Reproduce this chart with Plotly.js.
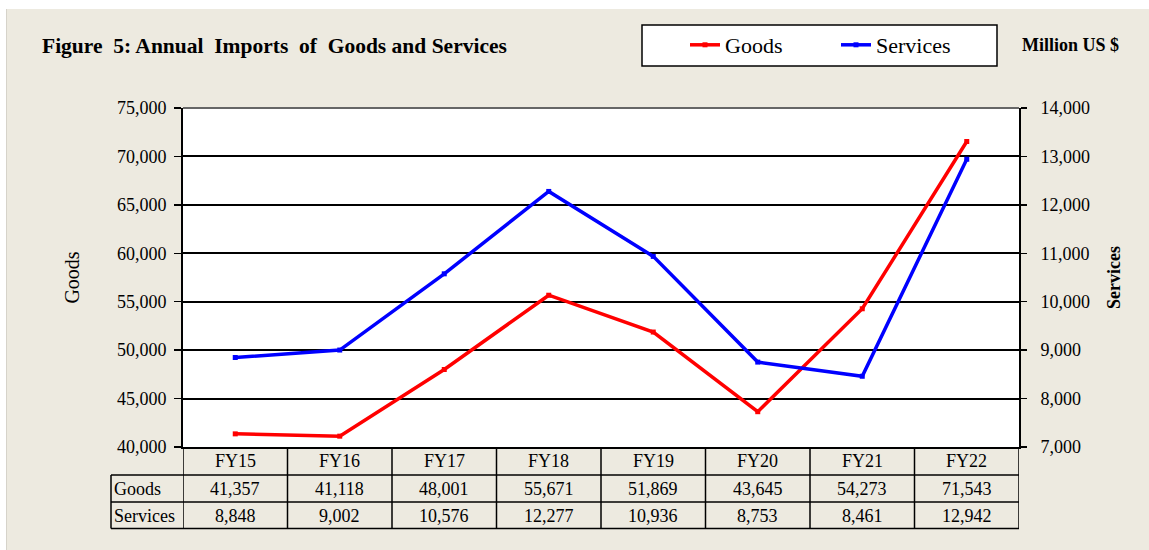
<!DOCTYPE html>
<html>
<head>
<meta charset="utf-8">
<script src="https://cdn.plot.ly/plotly-3.0.1.min.js"></script>
<style>html,body{margin:0;padding:0;background:#fff;} #chart{width:1149px;height:550px;}</style>
</head>
<body>
<div id="chart"></div>
<script>
const categories = ['FY15','FY16','FY17','FY18','FY19','FY20','FY21','FY22'];
const goods = [41357, 41118, 48001, 55671, 51869, 43645, 54273, 71543];
const services = [8848, 9002, 10576, 12277, 10936, 8753, 8461, 12942];
const seriesNames = ['Goods', 'Services'];
const titleText = 'Figure\u00A0 5: Annual\u00A0 Imports\u00A0 of\u00A0 Goods and Services';
const unitText = 'Million US $';

const W = 1149, H = 550;
const L = 183, R = 1019, T = 108, B = 447;
const px2x = X => (X - L) / (R - L);
const px2y = Y => (B - Y) / (B - T);
const FONT = '"Liberation Serif", "Times New Roman", serif';
const BEIGE = '#EDEAE0';

const fmt = v => v.toLocaleString('en-US');

const traces = [
  {x: categories, y: goods, name: seriesNames[0], type: 'scatter', mode: 'lines+markers',
   line: {color: '#FF0000', width: 3.5}, marker: {symbol: 'square', size: 5, color: '#FF0000'}, yaxis: 'y'},
  {x: categories, y: services, name: seriesNames[1], type: 'scatter', mode: 'lines+markers',
   line: {color: '#0000FF', width: 3.5}, marker: {symbol: 'square', size: 5, color: '#0000FF'}, yaxis: 'y2'}
];

const shapes = [];
const annotations = [];
shapes.push({type:'rect', xref:'paper', yref:'paper', x0:px2x(0), x1:px2x(6), y0:px2y(0), y1:px2y(H), fillcolor:'#fff', line:{width:0}, layer:'below'});
shapes.push({type:'rect', xref:'paper', yref:'paper', x0:px2x(0), x1:px2x(W), y0:px2y(0), y1:px2y(9), fillcolor:'#fff', line:{width:0}, layer:'below'});
shapes.push({type:'line', xref:'paper', yref:'paper', x0:px2x(6.5), x1:px2x(6.5), y0:px2y(9), y1:px2y(H), line:{color:'#D6D3CA', width:1}, layer:'below'});
shapes.push({type:'rect', xref:'paper', yref:'paper', x0:px2x(642), x1:px2x(997), y0:px2y(25), y1:px2y(66), fillcolor:'#fff', line:{color:'#000', width:1.5}, layer:'below'});
shapes.push({type:'line', xref:'paper', yref:'paper', x0:0, x1:1, y0:1, y1:1, line:{color:'#666', width:2}});

const rowLineY = [475, 502, 528.5];
rowLineY.forEach(Y => shapes.push({type:'line', xref:'paper', yref:'paper', x0:px2x(111), x1:1, y0:px2y(Y), y1:px2y(Y), line:{color:'#000', width:1.5}}));
shapes.push({type:'line', xref:'paper', yref:'paper', x0:px2x(111), x1:px2x(111), y0:px2y(475), y1:px2y(528.5), line:{color:'#000', width:1.5}});
for (let i = 0; i <= categories.length; i++) {
  shapes.push({type:'line', xref:'x', yref:'paper', x0:i-0.5, x1:i-0.5, y0:0, y1:px2y(528.5), line:{color:'#000', width:1.5}});
}
const headerY = px2y(461), goodsY = px2y(488.5), servY = px2y(515.5);
const cellFont = {family:FONT, size:18, color:'#000'};
categories.forEach((c, i) => {
  annotations.push({xref:'x', yref:'paper', x:c, y:headerY, xanchor:'center', yanchor:'middle', text:c, showarrow:false, font:cellFont});
  annotations.push({xref:'x', yref:'paper', x:c, y:goodsY, xanchor:'center', yanchor:'middle', text:fmt(goods[i]), showarrow:false, font:cellFont});
  annotations.push({xref:'x', yref:'paper', x:c, y:servY, xanchor:'center', yanchor:'middle', text:fmt(services[i]), showarrow:false, font:cellFont});
});
annotations.push({xref:'paper', yref:'paper', x:px2x(112), y:goodsY, xanchor:'left', yanchor:'middle', text:seriesNames[0], showarrow:false, font:cellFont});
annotations.push({xref:'paper', yref:'paper', x:px2x(112), y:servY, xanchor:'left', yanchor:'middle', text:seriesNames[1], showarrow:false, font:cellFont});
annotations.push({xref:'paper', yref:'paper', x:px2x(1020), y:px2y(45), xanchor:'left', yanchor:'middle', text:'<b>'+unitText+'</b>', showarrow:false, font:{family:FONT, size:18, color:'#000'}});

const layout = {
  width: W, height: H,
  margin: {l: L, r: W - R, t: T, b: H - B, pad: 0},
  paper_bgcolor: BEIGE,
  plot_bgcolor: '#fff',
  font: {family: FONT, color: '#000'},
  title: {text: '<b>' + titleText + '</b>', xref: 'container', x: 42/W, xanchor: 'left', yref: 'container', y: 1 - 45/H, yanchor: 'middle', font: {family: FONT, size: 21.5, color: '#000'}},
  showlegend: true,
  legend: {orientation: 'h', x: px2x(685), xanchor: 'left', y: px2y(45), yanchor: 'middle', bgcolor: 'rgba(0,0,0,0)', borderwidth: 0, font: {family: FONT, size: 22, color: '#000'}, entrywidth: 106, itemwidth: 30},
  xaxis: {type: 'category', range: [-0.5, 7.5], showticklabels: false, ticks: '', showgrid: false, zeroline: false, showline: true, linecolor: '#000', linewidth: 2, fixedrange: true},
  yaxis: {range: [40000, 75000], dtick: 5000, tickformat: ',d', showgrid: true, gridcolor: '#000', gridwidth: 2, zeroline: false, showline: true, linecolor: '#000', linewidth: 2, ticks: 'outside', ticklen: 7, tickwidth: 1.5, tickcolor: '#000', tickfont: {family: FONT, size: 18, color: '#000'}, ticklabelstandoff: 4,
    title: {text: seriesNames[0], font: {family: FONT, size: 20, color: '#000'}, standoff: 32}},
  yaxis2: {overlaying: 'y', side: 'right', range: [7000, 14000], dtick: 1000, tickformat: ',d', showgrid: false, zeroline: false, showline: true, linecolor: '#000', linewidth: 2, ticks: 'outside', ticklen: 6, tickwidth: 1.5, tickcolor: '#000', tickfont: {family: FONT, size: 18, color: '#000'}, ticklabelstandoff: 10,
    title: {text: '<b>' + seriesNames[1] + '</b>', font: {family: FONT, size: 18, color: '#000'}, standoff: 18}},
  shapes: shapes,
  annotations: annotations
};

Plotly.newPlot('chart', traces, layout, {displayModeBar: false, staticPlot: true});
</script>
</body>
</html>
